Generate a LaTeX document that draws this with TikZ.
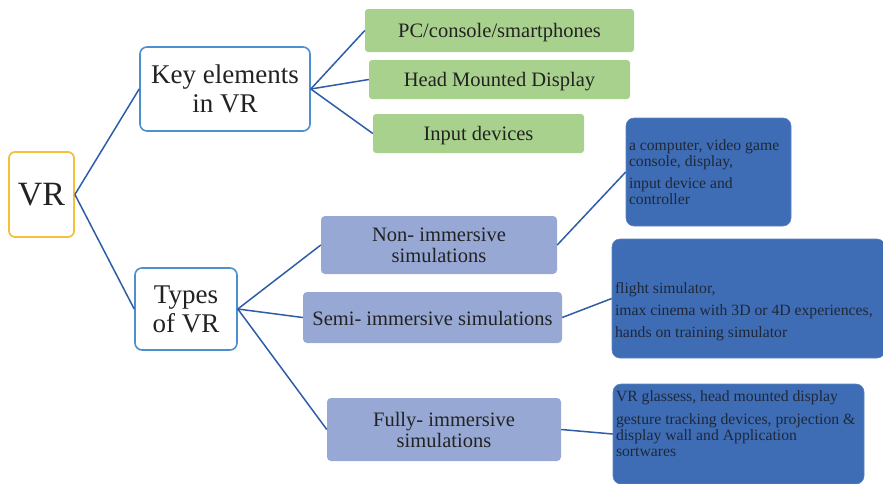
\documentclass[tikz,border=0pt]{standalone}
\usepackage{fontspec}
\setmainfont{Liberation Serif}
\definecolor{vrgold}{HTML}{F7C03A}
\definecolor{bordblue}{HTML}{4E8FCF}
\definecolor{greenfill}{HTML}{A9D18E}
\definecolor{purfill}{HTML}{97A8D5}
\definecolor{darkfill}{HTML}{3E6DB5}
\definecolor{connblue}{HTML}{2D5DA6}
\definecolor{txt}{HTML}{222222}
\definecolor{darktxt}{HTML}{1E2838}
\tikzset{
  every node/.style={text=txt, inner sep=0pt, align=center},
  rootbox/.style={draw=vrgold, line width=1.8pt, rounded corners=6pt, fill=white,
    font=\fontsize{34}{36}\selectfont},
  midbox/.style={draw=bordblue, line width=1.6pt, rounded corners=7pt, fill=white,
    font=\fontsize{27}{29}\selectfont},
  greenbox/.style={fill=greenfill, rounded corners=3pt, font=\fontsize{20.5}{21}\selectfont, text depth=1pt},
  purbox/.style={fill=purfill, rounded corners=4pt, font=\fontsize{20.5}{21}\selectfont},
  darkbox/.style={fill=darkfill, draw=darkfill!85!white, line width=0.6pt, rounded corners=8pt, text=darktxt},
  conn/.style={draw=connblue, line width=1.5pt}
}
\newcommand{\boxtext}[4]{\parbox[c][#1pt][t]{#2pt}{\raggedright\leftskip=3pt\parindent=0pt\fontsize{15.7}{#3}\selectfont #4}}
\begin{document}
\begin{tikzpicture}[x=1pt,y=-1pt]
\useasboundingbox (0,0) rectangle (883,483);
% root
\node[rootbox, minimum width=65, minimum height=85] (vr) at (41.5,194.5) {VR};
% second level
\node[midbox, minimum width=170, minimum height=84] (key) at (225,89) {Key elements\\in VR};
\node[midbox, minimum width=102, minimum height=82] (types) at (186,309) {Types\\of VR};
% green
\node[greenbox, minimum width=269, minimum height=43] (pc) at (499.5,30.5) {PC/console/smartphones};
\node[greenbox, minimum width=261, minimum height=39] (hmd) at (499.5,79.5) {Head Mounted Display};
\node[greenbox, minimum width=211, minimum height=39] (inp) at (478.5,133.5) {Input devices};
% purple
\node[purbox, minimum width=236, minimum height=58] (non) at (439,245) {Non- immersive\\simulations};
\node[purbox, minimum width=259, minimum height=51, text height=16pt, text depth=0pt] (semi) at (432.5,317.5) {Semi- immersive simulations};
\node[purbox, minimum width=234, minimum height=63] (fully) at (444,429.5) {Fully- immersive\\simulations};
% dark boxes
\node[darkbox, minimum width=165, minimum height=108] (b1) at (708.5,172)
  {\boxtext{108}{165}{16}{\rule{0pt}{32pt}a computer, video game\\console, display,\\[6pt]input device and\\controller}};
\node[darkbox, minimum width=273, minimum height=119] (b2) at (748.5,298.5)
  {\boxtext{119}{273}{22}{\rule{0pt}{54.5pt}flight simulator,\\imax cinema with 3D or 4D experiences,\\hands on training simulator}};
\node[darkbox, minimum width=251, minimum height=100] (b3) at (738.5,434)
  {\boxtext{100}{251}{16}{\rule{0pt}{17.7pt}VR glassess, head mounted display\\[6.5pt]gesture tracking devices, projection \&\\display wall and Application\\sortwares}};
% connectors
\draw[conn] (vr.east) -- (key.west);
\draw[conn] (vr.east) -- (types.west);
\draw[conn] (key.east) -- (pc.west);
\draw[conn] (key.east) -- (hmd.west);
\draw[conn] (key.east) -- (inp.west);
\draw[conn] (types.east) -- (non.west);
\draw[conn] (types.east) -- (semi.west);
\draw[conn] (types.east) -- (fully.west);
\draw[conn] (non.east) -- (b1.west);
\draw[conn] (semi.east) -- (b2.west);
\draw[conn] (fully.east) -- (b3.west);
\end{tikzpicture}
\end{document}
